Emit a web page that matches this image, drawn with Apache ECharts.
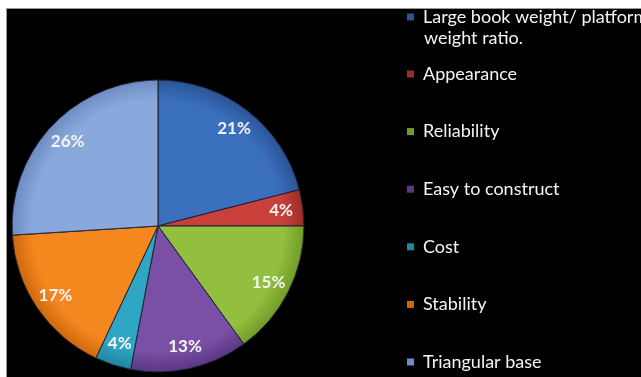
<!DOCTYPE html>
<html>
<head>
<meta charset="utf-8">
<style>
html,body{margin:0;padding:0;background:#ffffff;}
#frame{position:absolute;left:6px;top:8px;width:635px;height:369px;background:#000;border-left:1px solid #999;border-top:1px solid #999;}
#chart{position:absolute;left:0;top:0;width:641px;height:377px;}
</style>
<script src="https://cdn.jsdelivr.net/npm/echarts@6/dist/echarts.min.js"></script>
</head>
<body>
<div id="frame"></div>
<div id="chart"></div>
<script>
const categories = ['Large book weight/ platform weight ratio.', 'Appearance', 'Reliability', 'Easy to construct', 'Cost', 'Stability', 'Triangular base'];
const shares = [21, 4, 15, 13, 4, 17, 26];
const colors = ['#3a6fbd', '#c9403b', '#92c03e', '#7a4fa6', '#2fa6c4', '#f5871f', '#89a9dc'];
const edgeColors = ['#2a5596', '#9c2c28', '#719c28', '#5a3783', '#1f86a0', '#cf690e', '#6e8cc2'];

const chart = echarts.init(document.getElementById('chart'), null, {renderer: 'canvas'});
const cx = 158, cy = 226, R = 146;

const data = categories.map((n, i) => ({
  name: n,
  value: shares[i],
  itemStyle: {
    color: {
      type: 'radial', x: cx, y: cy, r: R, global: true,
      colorStops: [{offset: 0, color: colors[i]}, {offset: 0.86, color: colors[i]}, {offset: 1, color: edgeColors[i]}]
    }
  }
}));
const labelData = categories.map((n, i) => ({name: n, value: shares[i]}));

const legendText = {color: '#f4f4f4', fontFamily: 'Lato', fontSize: 18};
const squareIcon = 'path://M0,0h10v10h-10z';

chart.setOption({
  backgroundColor: 'transparent',
  color: colors,
  legend: [
    {
      orient: 'vertical', left: 402, top: 3,
      data: [categories[0]],
      icon: squareIcon, symbolKeepAspect: true,
      itemWidth: 15, itemHeight: 7, itemGap: 0, itemStyle: {borderWidth: 0},
      selectedMode: false,
      formatter: () => 'Large book weight/ platform',
      textStyle: legendText
    },
    {
      orient: 'vertical', left: 402, top: 60, height: 320,
      data: categories.slice(1),
      icon: squareIcon, symbolKeepAspect: true,
      itemWidth: 15, itemHeight: 7, itemGap: 39.6, itemStyle: {borderWidth: 0},
      selectedMode: false,
      textStyle: legendText
    }
  ],
  graphic: [
    {type: 'text', left: 424, top: 29, silent: true,
     style: {text: 'weight ratio.', fill: '#f4f4f4', font: '18px Lato'}}
  ],
  series: [
    {
      type: 'pie',
      center: [cx, cy], radius: R,
      startAngle: 90, clockwise: true,
      data: data,
      label: {show: false}, labelLine: {show: false},
      itemStyle: {borderColor: 'rgba(30,30,50,0.6)', borderWidth: 1},
      emphasis: {disabled: true},
      silent: true
    },
    {
      type: 'pie',
      center: [cx, cy], radius: [96, R],
      startAngle: 90, clockwise: true,
      data: labelData,
      itemStyle: {color: 'rgba(0,0,0,0)'},
      label: {show: true, position: 'inside', formatter: '{c}%', color: '#f4f4f4', fontFamily: 'Lato', fontWeight: 'bold', fontSize: 17},
      labelLine: {show: false},
      emphasis: {disabled: true},
      silent: true
    }
  ]
});
</script>
</body>
</html>
